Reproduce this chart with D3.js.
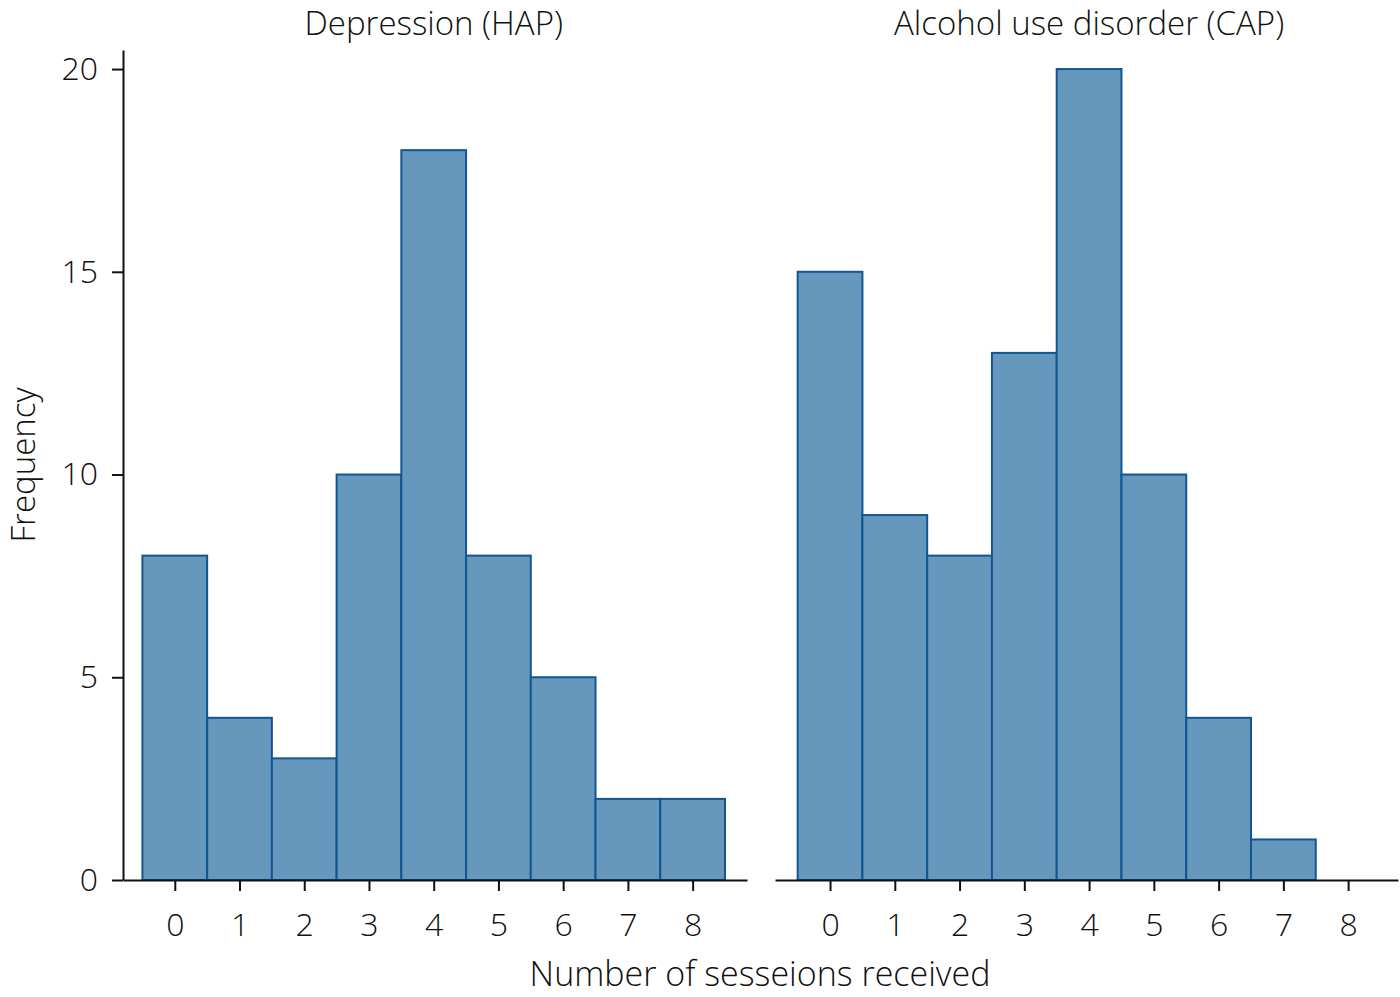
<!DOCTYPE html>
<html>
<head>
<meta charset="utf-8">
<script src="https://cdn.jsdelivr.net/npm/d3@7"></script>
<style>
  body { margin: 0; background: #fff; }
  svg text { font-family: "Open Sans", sans-serif; font-weight: 300; fill: #111; }
</style>
</head>
<body>
<div class="chart_box"></div>
<script>
var sessions = [0, 1, 2, 3, 4, 5, 6, 7, 8];
var hapCounts = [8, 4, 3, 10, 18, 8, 5, 2, 2];
var capCounts = [15, 9, 8, 13, 20, 10, 4, 1, 0];
var yTicks = [0, 5, 10, 15, 20];
var panelTitles = ["Depression (HAP)", "Alcohol use disorder (CAP)"];

var width = 1400;
var height = 997;
var fillColor = "#6698be";
var strokeColor = "#135593";

var svg = d3.select(".chart_box")
  .append("svg")
  .attr("width", width)
  .attr("height", height);

var yScale = d3.scaleLinear()
  .domain([0, 20.47])
  .range([880, 50]);

var panels = [
  { title: panelTitles[0], counts: hapCounts, domain: [-0.8, 8.84], range: [123, 747], yAxis: true },
  { title: panelTitles[1], counts: capCounts, domain: [-0.85, 8.77], range: [775, 1398], yAxis: false }
];

panels.forEach(function(p) {
  var xScale = d3.scaleLinear().domain(p.domain).range(p.range);
  var g = svg.append("g");

  // bars, one per session count
  g.selectAll(".bar")
    .data(sessions.filter(function(s, i) { return p.counts[i] > 0; }))
    .enter()
    .append("rect")
    .attr("class", "bar")
    .attr("x", d => xScale(d - 0.5))
    .attr("width", d => xScale(d + 0.5) - xScale(d - 0.5))
    .attr("y", d => yScale(p.counts[d]))
    .attr("height", d => yScale(0) - yScale(p.counts[d]))
    .attr("fill", fillColor)
    .attr("stroke", strokeColor)
    .attr("stroke-width", 2);

  var xAxis = d3.axisBottom(xScale)
    .tickValues(sessions)
    .tickSizeInner(11)
    .tickSizeOuter(0)
    .tickPadding(22)
    .tickFormat(d3.format("d"));

  var ax = g.append("g")
    .attr("transform", "translate(0," + yScale(0) + ")")
    .call(xAxis);
  ax.selectAll("path, line").attr("stroke", "#111").attr("stroke-width", 2);
  ax.selectAll("text").attr("font-size", "32px").attr("font-family", null);

  if (p.yAxis) {
    var yAxis = d3.axisLeft(yScale)
      .tickValues(yTicks)
      .tickSizeInner(11)
      .tickSizeOuter(0)
      .tickPadding(14);
    var ay = g.append("g")
      .attr("transform", "translate(" + p.range[0] + ",0)")
      .call(yAxis);
    ay.selectAll("path, line").attr("stroke", "#111").attr("stroke-width", 2);
    ay.selectAll("text").attr("font-size", "32px").attr("font-family", null);
  }

  g.append("text")
    .attr("x", (xScale(-0.5) + xScale(8.5)) / 2)
    .attr("y", 35)
    .attr("text-anchor", "middle")
    .attr("font-size", "33px")
    .text(p.title);
});

svg.append("text")
  .attr("x", 760)
  .attr("y", 986)
  .attr("text-anchor", "middle")
  .attr("font-size", "34px")
  .text("Number of sesseions received");

svg.append("text")
  .attr("transform", "translate(35,465) rotate(-90)")
  .attr("text-anchor", "middle")
  .attr("font-size", "33px")
  .text("Frequency");
</script>
</body>
</html>
